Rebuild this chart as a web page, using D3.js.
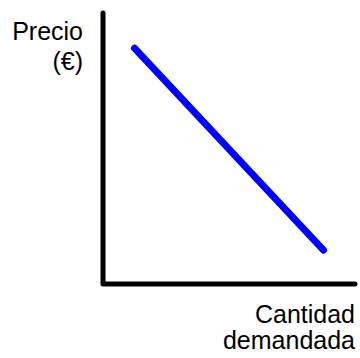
<!DOCTYPE html>
<html>
  <head>
    <meta charset="utf-8">
    <title>Curva de demanda</title>
    <script src="https://d3js.org/d3.v7.min.js"></script>
    <style>
      body { margin: 0; background: #fff; }
      text { font-family: "Liberation Sans", Arial, sans-serif; font-size: 25px; fill: #000; }
    </style>
  </head>
  <body>
    <svg id="svg" width="360" height="358"></svg>
    <script>
      // data
      var quantity = [1.25, 8.75];
      var price = [8.7, 1.25];
      var yLabel = ["Precio", "(€)"];
      var xLabel = ["Cantidad", "demandada"];

      var svg = d3.select("#svg");
      var x = d3.scaleLinear().domain([0, 10]).range([103, 355]);
      var y = d3.scaleLinear().domain([0, 10]).range([284, 13]);

      // axes (plain lines, no ticks)
      svg.append("path")
        .attr("d", "M" + x(0) + "," + y(10) + "V" + y(0) + "H" + x(10))
        .attr("fill", "none")
        .attr("stroke", "#000")
        .attr("stroke-width", 5)
        .attr("stroke-linecap", "round")
        .attr("stroke-linejoin", "round");

      // demand curve
      var line = d3.line()
        .x(function(d, i) { return x(quantity[i]); })
        .y(function(d) { return y(d); });
      svg.append("path")
        .attr("d", line(price))
        .attr("fill", "none")
        .attr("stroke", "#0000ff")
        .attr("stroke-width", 7)
        .attr("stroke-linecap", "round");

      // labels
      svg.selectAll(".ylab")
          .data(yLabel)
        .enter().append("text")
          .attr("class", "ylab")
          .attr("x", 83)
          .attr("y", function(d, i) { return 40 + i * 30; })
          .attr("text-anchor", "end")
          .text(function(d) { return d; });
      svg.selectAll(".xlab")
          .data(xLabel)
        .enter().append("text")
          .attr("class", "xlab")
          .attr("x", 355)
          .attr("y", function(d, i) { return 323 + i * 26; })
          .attr("text-anchor", "end")
          .text(function(d) { return d; });
    </script>
  </body>
</html>
